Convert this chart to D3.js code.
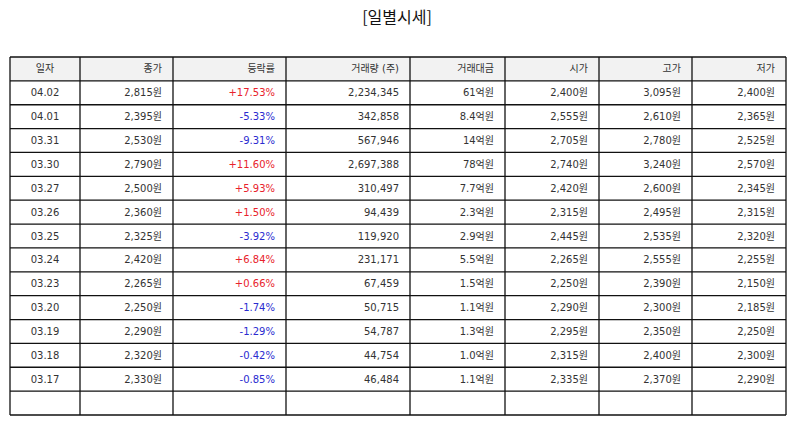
<!DOCTYPE html>
<html>
<head>
<meta charset="utf-8">
<script src="https://cdn.jsdelivr.net/npm/d3@7"></script>
<style>
  body { margin: 0; background: #fff; }
  svg { display: block; font-family: "DejaVu Sans", "Noto Sans CJK KR", sans-serif; }
</style>
</head>
<body>
<svg id="chart" width="794" height="425"></svg>
<script>
const title = "[일별시세]";

const headers = ["일자", "종가", "등락률", "거래량 (주)", "거래대금", "시가", "고가", "저가"];
const dates = ["04.02", "04.01", "03.31", "03.30", "03.27", "03.26", "03.25", "03.24", "03.23", "03.20", "03.19", "03.18", "03.17"];
const closes = [2815, 2395, 2530, 2790, 2500, 2360, 2325, 2420, 2265, 2250, 2290, 2320, 2330];
const changes = [17.53, -5.33, -9.31, 11.60, 5.93, 1.50, -3.92, 6.84, 0.66, -1.74, -1.29, -0.42, -0.85];
const volumes = [2234345, 342858, 567946, 2697388, 310497, 94439, 119920, 231171, 67459, 50715, 54787, 44754, 46484];
const amounts = ["61억원", "8.4억원", "14억원", "78억원", "7.7억원", "2.3억원", "2.9억원", "5.5억원", "1.5억원", "1.1억원", "1.3억원", "1.0억원", "1.1억원"];
const opens = [2400, 2555, 2705, 2740, 2420, 2315, 2445, 2265, 2250, 2290, 2295, 2315, 2335];
const highs = [3095, 2610, 2780, 3240, 2600, 2495, 2535, 2555, 2390, 2300, 2350, 2400, 2370];
const lows = [2400, 2365, 2525, 2570, 2345, 2315, 2320, 2255, 2150, 2185, 2250, 2300, 2290];

// column edges (layout)
const colEdges = [10, 80, 173, 286, 410, 505, 599, 692, 786];

const svg = d3.select("#chart");
const fmt = d3.format(",");
const won = v => fmt(v) + "원";
const pct = v => (v > 0 ? "+" : "") + v.toFixed(2) + "%";

// rows: header + data + one empty row
const rowIds = ["header"].concat(dates.map((d, i) => i), ["empty"]);
const y = d3.scaleBand().domain(rowIds).range([57, 415]);

svg.append("text")
  .attr("x", 397).attr("y", 23)
  .attr("text-anchor", "middle")
  .attr("font-family", "Noto Sans CJK KR")
  .attr("font-size", 16)
  .attr("fill", "#111")
  .text(title);

// header background
svg.append("rect")
  .attr("x", colEdges[0]).attr("y", y("header"))
  .attr("width", colEdges[8] - colEdges[0]).attr("height", y.bandwidth())
  .attr("fill", "#f2f2f2");

const cells = dates.map((d, i) => [
  { t: d },
  { t: won(closes[i]) },
  { t: pct(changes[i]), c: changes[i] > 0 ? "#e8222b" : "#2b2bd0" },
  { t: fmt(volumes[i]) },
  { t: amounts[i] },
  { t: won(opens[i]) },
  { t: won(highs[i]) },
  { t: won(lows[i]) }
]);

const textX = (j) => j === 0 ? (colEdges[0] + colEdges[1]) / 2 : colEdges[j + 1] - 11;
const anchor = (j) => j === 0 ? "middle" : "end";

const g = svg.append("g").attr("font-size", 10).attr("fill", "#333");

g.selectAll("text.h").data(headers).enter().append("text")
  .attr("class", "h")
  .attr("x", (d, j) => textX(j))
  .attr("y", y("header") + y.bandwidth() / 2)
  .attr("dy", "0.35em")
  .attr("text-anchor", (d, j) => anchor(j))
  .text(d => d);

const rows = g.selectAll("g.row").data(cells).enter().append("g")
  .attr("class", "row")
  .attr("transform", (d, i) => `translate(0,${y(i) + y.bandwidth() / 2})`);

rows.selectAll("text").data(d => d).enter().append("text")
  .attr("x", (d, j) => textX(j))
  .attr("dy", "0.35em")
  .attr("text-anchor", (d, j) => anchor(j))
  .attr("fill", d => d.c || "#333")
  .text(d => d.t);

// grid lines
const grid = svg.append("g").attr("stroke", "#111").attr("stroke-width", 1.3);
grid.selectAll("line.h").data(rowIds.concat(["end"])).enter().append("line")
  .attr("x1", colEdges[0]).attr("x2", colEdges[8])
  .attr("y1", d => d === "end" ? 415 : y(d))
  .attr("y2", d => d === "end" ? 415 : y(d));
grid.selectAll("line.v").data(colEdges).enter().append("line")
  .attr("x1", d => d).attr("x2", d => d)
  .attr("y1", 57).attr("y2", 415);
</script>
</body>
</html>
